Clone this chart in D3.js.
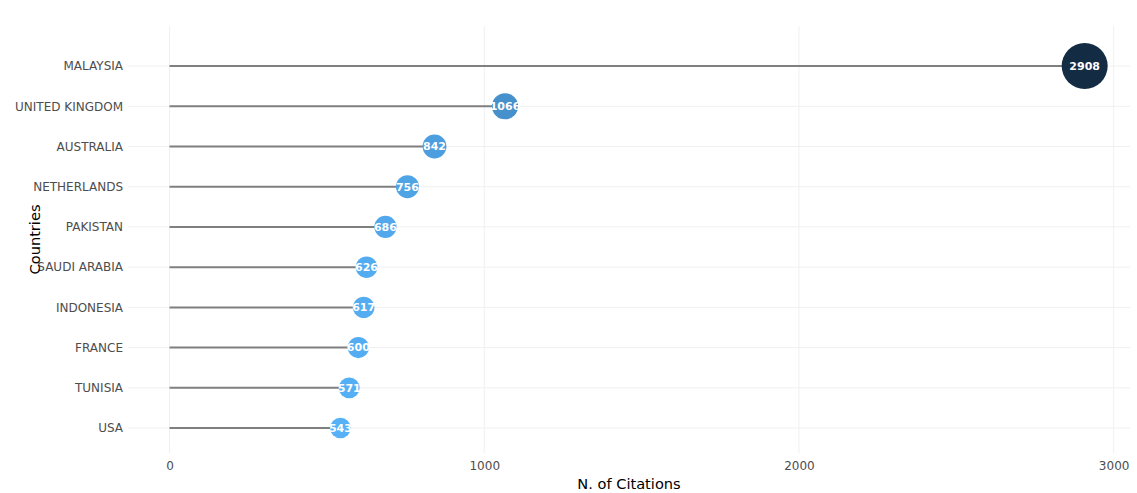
<!DOCTYPE html>
<html>
<head>
<meta charset="utf-8">
<script src="https://cdn.jsdelivr.net/npm/d3@7"></script>
<style>
  body { margin: 0; background: #fff; }
  text { font-family: "DejaVu Sans", Verdana, sans-serif; }
</style>
</head>
<body>
<div id="chart"></div>
<script>
// data, bottom to top
const countries = ["USA", "TUNISIA", "FRANCE", "INDONESIA", "SAUDI ARABIA",
                   "PAKISTAN", "NETHERLANDS", "AUSTRALIA", "UNITED KINGDOM", "MALAYSIA"];
const citations = [543, 571, 600, 617, 626, 686, 756, 842, 1066, 2908];
const xTicks = [0, 1000, 2000, 3000];

const W = 1137, H = 493;
const plot = {left: 128, right: 1130, top: 26, bottom: 453};

const svg = d3.select("#chart").append("svg")
    .attr("width", W)
    .attr("height", H);

const x = d3.scaleLinear()
    .domain([-132, 3052])
    .range([plot.left, plot.right]);

const y = d3.scaleLinear()
    .domain([-0.62, 9.995])
    .range([plot.bottom, plot.top]);

const size = d3.scaleLinear()
    .domain(d3.extent(citations))
    .range([10.3, 23]);

const color = d3.scaleLinear()
    .domain(d3.extent(citations))
    .range(["#56B1F7", "#132B43"])
    .interpolate(d3.interpolateLab);

const data = countries.map((c, i) => ({country: c, value: citations[i], idx: i}));

// grid
svg.append("g")
    .selectAll("line")
    .data(xTicks)
    .join("line")
    .attr("x1", d => x(d)).attr("x2", d => x(d))
    .attr("y1", plot.top).attr("y2", plot.bottom)
    .attr("stroke", "#f0f0f0").attr("stroke-width", 1);

svg.append("g")
    .selectAll("line")
    .data(data)
    .join("line")
    .attr("x1", plot.left).attr("x2", plot.right)
    .attr("y1", d => y(d.idx)).attr("y2", d => y(d.idx))
    .attr("stroke", "#f0f0f0").attr("stroke-width", 1);

// x axis
const xAxis = svg.append("g")
    .attr("transform", `translate(0,${plot.bottom})`)
    .call(d3.axisBottom(x).tickValues(xTicks).tickFormat(d3.format("d"))
        .tickSize(0).tickPadding(8));
xAxis.select(".domain").remove();
xAxis.selectAll("text")
    .attr("font-size", 12)
    .attr("fill", "#4d4d4d")
    .style("font-family", '"DejaVu Sans", Verdana, sans-serif');

// y axis
const yAxis = svg.append("g")
    .attr("transform", `translate(${plot.left},0)`)
    .call(d3.axisLeft(y).tickValues(d3.range(countries.length))
        .tickFormat(i => countries[i]).tickSize(0).tickPadding(5));
yAxis.select(".domain").remove();
yAxis.selectAll("text")
    .attr("font-size", 12)
    .attr("fill", "#4d4d4d")
    .style("font-family", '"DejaVu Sans", Verdana, sans-serif');

// stems
svg.append("g")
    .selectAll("line")
    .data(data)
    .join("line")
    .attr("x1", x(0))
    .attr("x2", d => x(d.value))
    .attr("y1", d => y(d.idx))
    .attr("y2", d => y(d.idx))
    .attr("stroke", "#7f7f7f")
    .attr("stroke-width", 2);

// bubbles
svg.append("g")
    .selectAll("circle")
    .data(data)
    .join("circle")
    .attr("cx", d => x(d.value))
    .attr("cy", d => y(d.idx))
    .attr("r", d => size(d.value))
    .attr("fill", d => color(d.value));

// value labels
svg.append("g")
    .selectAll("text")
    .data(data)
    .join("text")
    .attr("x", d => x(d.value))
    .attr("y", d => y(d.idx))
    .attr("dy", "0.35em")
    .attr("text-anchor", "middle")
    .attr("font-size", 11)
    .attr("font-weight", "bold")
    .attr("fill", "#fff")
    .text(d => d.value);

// axis titles
svg.append("text")
    .attr("x", (plot.left + plot.right) / 2)
    .attr("y", 489)
    .attr("text-anchor", "middle")
    .attr("font-size", 14.6)
    .attr("fill", "#000")
    .text("N. of Citations");

svg.append("text")
    .attr("transform", `translate(40,${(plot.top + plot.bottom) / 2}) rotate(-90)`)
    .attr("text-anchor", "middle")
    .attr("font-size", 14.6)
    .attr("fill", "#000")
    .text("Countries");
</script>
</body>
</html>
